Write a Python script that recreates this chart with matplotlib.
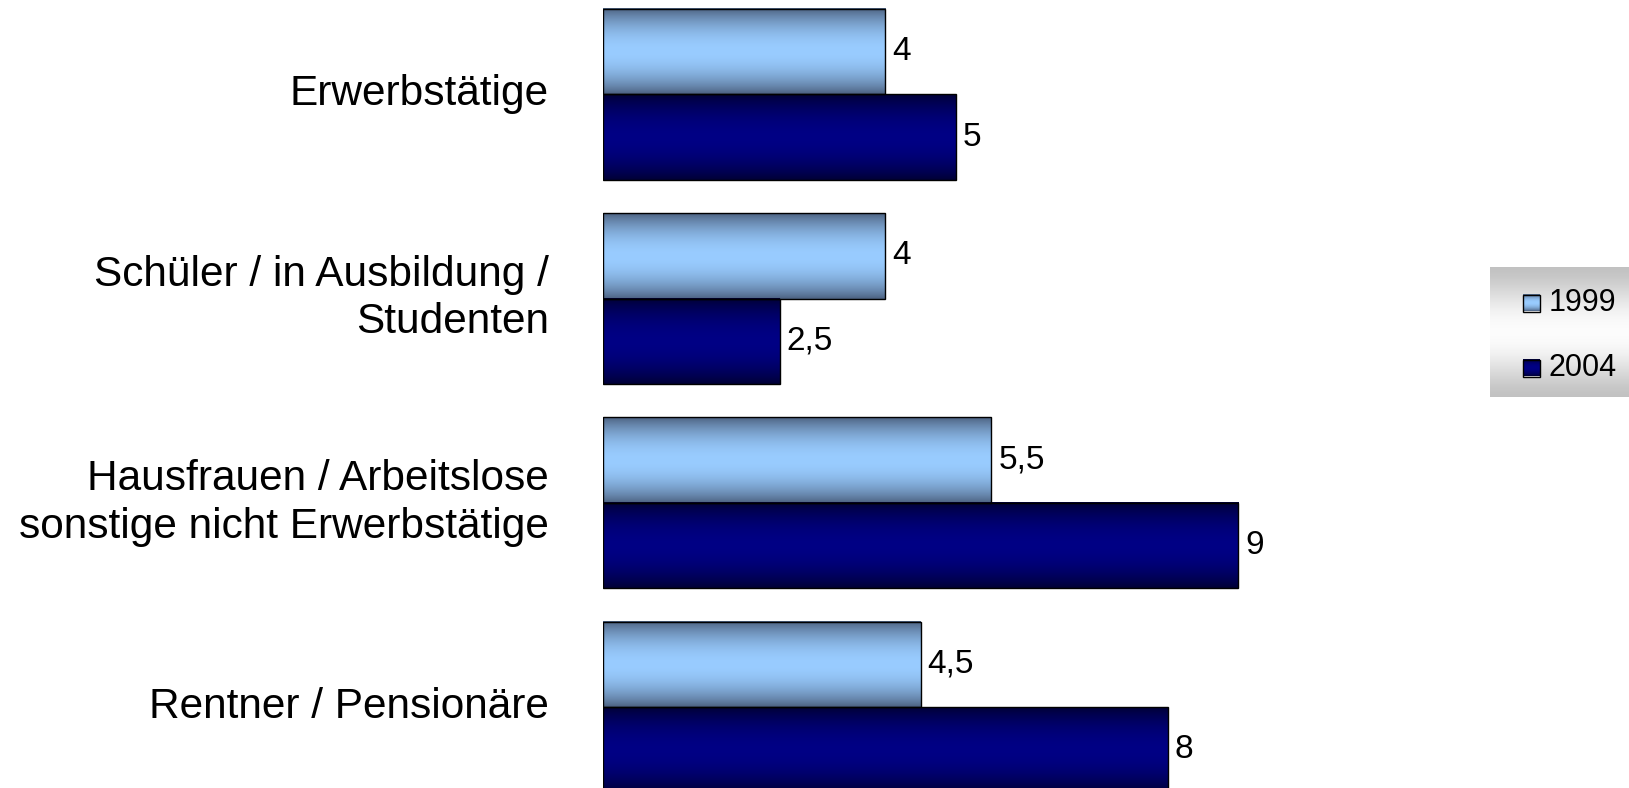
import numpy as np
import matplotlib
matplotlib.use("Agg")
import matplotlib.pyplot as plt
from matplotlib.patches import Rectangle

plt.rcParams['font.family'] = ['Liberation Sans', 'DejaVu Sans']

categories = ["Erwerbstätige",
              "Schüler / in Ausbildung /\nStudenten",
              "Hausfrauen / Arbeitslose\nsonstige nicht Erwerbstätige",
              "Rentner / Pensionäre"]
series_names = ["1999", "2004"]
values_1999 = [4, 4, 5.5, 4.5]
values_2004 = [5, 2.5, 9, 8]

W, H = 1629, 788
fig = plt.figure(figsize=(W / 100, H / 100), dpi=100)

# colour gradients (edge colour, centre colour)
grads = {
    "1999": ((0.29, 0.37, 0.49), (0.60, 0.80, 1.00)),
    "2004": ((0.0, 0.0, 0.20), (0.0, 0.0, 0.52)),
}

def grad_img(edge, centre, n=200):
    t = np.linspace(0, 1, n)
    f = np.sin(np.pi * t) ** 0.8
    e = np.array(edge)
    c = np.array(centre)
    cols = e[None, :] + (c - e)[None, :] * f[:, None]
    return cols[:, None, :]

ax_left = 603
px_per_unit = 70.6
ax = fig.add_axes([ax_left / W, 0, (W - ax_left) / W, 1])
ax.set_xlim(0, (W - ax_left) / px_per_unit)

pitch = 204.2
y0 = 94.4
bar_h = 85.5 / pitch
ax.set_ylim((H - y0) / pitch, -y0 / pitch)

centers = np.arange(len(categories))
all_vals = [values_1999, values_2004]
offsets = [-bar_h / 2, bar_h / 2]

def fmt(v):
    s = ("%g" % v)
    return s.replace('.', ',')

for name, vals, off in zip(series_names, all_vals, offsets):
    bars = ax.barh(centers + off, vals, height=bar_h, facecolor='none',
                   edgecolor='black', linewidth=1.0, zorder=3)
    img = grad_img(*grads[name])
    for b, v in zip(bars, vals):
        x, y, w, h = b.get_x(), b.get_y(), b.get_width(), b.get_height()
        ax.imshow(img, extent=(x, x + w, y + h, y), aspect='auto',
                  origin='upper', zorder=2, interpolation='bilinear')
        ax.annotate(fmt(v), xy=(x + w, y + h / 2), xytext=(5, 0),
                    textcoords='offset points', va='center', ha='left',
                    fontsize=24, color='black')

ax.set_xlim(0, (W - ax_left) / px_per_unit)
ax.set_ylim((H - y0) / pitch, -y0 / pitch)

# category labels
for c, cat in zip(centers, categories):
    ax.annotate(cat, xy=(0, c), xycoords=ax.get_yaxis_transform(),
                xytext=(-39, 0), textcoords='offset points',
                ha='right', va='center', multialignment='right',
                fontsize=30.5, linespacing=1.25, annotation_clip=False)

ax.set_xticks([])
ax.set_yticks([])
for s in ax.spines.values():
    s.set_visible(False)
ax.patch.set_alpha(0)

# legend box with grey-white-grey gradient
lx0, lx1, ly0, ly1 = 1490, 1629, 267, 397
lax = fig.add_axes([lx0 / W, 1 - ly1 / H, (lx1 - lx0) / W, (ly1 - ly0) / H])
lax.set_xlim(0, lx1 - lx0)
lax.set_ylim(ly1 - ly0, 0)
lax.axis('off')
t = np.linspace(0, 1, 200)
g = 0.76 + 0.23 * np.sin(np.pi * t) ** 1.5
bg = np.repeat(g[:, None], 3, axis=1)[:, None, :]
lax.imshow(bg, extent=(0, lx1 - lx0, ly1 - ly0, 0), aspect='auto', zorder=0)
row_y = [303 - ly0, 368 - ly0]
for name, ry in zip(series_names, row_y):
    sx, sw = 1523 - lx0, 17
    lax.imshow(grad_img(*grads[name]), extent=(sx, sx + sw, ry + sw / 2, ry - sw / 2),
               aspect='auto', zorder=1)
    lax.add_patch(Rectangle((sx, ry - sw / 2), sw, sw, facecolor='none',
                            edgecolor='black', linewidth=1.0, zorder=2))
    lax.text(1549 - lx0, ry, name, fontsize=22, va='center', ha='left', zorder=3)
lax.set_xlim(0, lx1 - lx0)
lax.set_ylim(ly1 - ly0, 0)

fig.savefig("out.png", dpi=100)
